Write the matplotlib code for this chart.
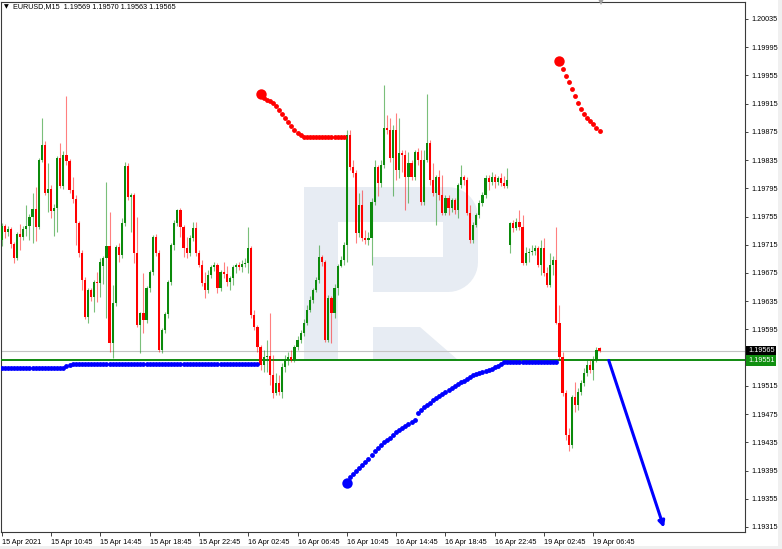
import matplotlib
matplotlib.use("Agg")
import matplotlib.pyplot as plt
import matplotlib.transforms as mtransforms
from matplotlib.patches import Polygon, Rectangle
import numpy as np

# ---------------- data ----------------
symbol = "EURUSD,M15"
last_ohlc = ["1.19569", "1.19570", "1.19563", "1.19565"]

opens = [
    1.19722, 1.19742, 1.19733, 1.19738, 1.19716, 1.19696, 1.19730, 1.19726, 1.19738, 1.19742,
    1.19755, 1.19766, 1.19740, 1.19835, 1.19856, 1.19789, 1.19794, 1.19763, 1.19767, 1.19838,
    1.19798, 1.19842, 1.19834, 1.19793, 1.19780, 1.19746, 1.19703, 1.19665, 1.19613, 1.19651,
    1.19641, 1.19662, 1.19661, 1.19685, 1.19696, 1.19713, 1.19576, 1.19633, 1.19712, 1.19701,
    1.19746, 1.19827, 1.19783, 1.19786, 1.19703, 1.19601, 1.19618, 1.19609, 1.19654, 1.19677,
    1.19726, 1.19703, 1.19566, 1.19594, 1.19617, 1.19662, 1.19715, 1.19746, 1.19764, 1.19740,
    1.19711, 1.19703, 1.19725, 1.19739, 1.19703, 1.19686, 1.19661, 1.19651, 1.19672, 1.19684,
    1.19687, 1.19654, 1.19677, 1.19674, 1.19662, 1.19668, 1.19684, 1.19687, 1.19684, 1.19688,
    1.19689, 1.19711, 1.19616, 1.19599, 1.19570, 1.19545, 1.19556, 1.19558, 1.19531, 1.19505,
    1.19519, 1.19506, 1.19542, 1.19552, 1.19556, 1.19552, 1.19570, 1.19580, 1.19590, 1.19604,
    1.19623, 1.19637, 1.19651, 1.19665, 1.19698, 1.19691, 1.19580, 1.19640, 1.19618, 1.19654,
    1.19685, 1.19694, 1.19715, 1.19871, 1.19825, 1.19817, 1.19732, 1.19772, 1.19725, 1.19722,
    1.19725, 1.19776, 1.19825, 1.19803, 1.19828, 1.19881, 1.19878, 1.19838, 1.19878, 1.19821,
    1.19845, 1.19842, 1.19811, 1.19831, 1.19811, 1.19847, 1.19835, 1.19776, 1.19835, 1.19859,
    1.19807, 1.19789, 1.19811, 1.19786, 1.19760, 1.19781, 1.19767, 1.19779, 1.19764, 1.19800,
    1.19811, 1.19807, 1.19760, 1.19722, 1.19743, 1.19757, 1.19774, 1.19786, 1.19810, 1.19804,
    1.19811, 1.19804, 1.19810, 1.19803, 1.19798, 1.19715, 1.19746, 1.19739, 1.19747, 1.19740,
    1.19689, 1.19703, 1.19705, 1.19706, 1.19711, 1.19687, 1.19711, 1.19675, 1.19658, 1.19687,
    1.19694, 1.19604, 1.19556, 1.19505, 1.19446, 1.19431, 1.19499, 1.19488, 1.19506, 1.19519,
    1.19533, 1.19545, 1.19538, 1.19552, 1.19569,
]
highs = [
    1.19746, 1.19745, 1.19742, 1.19740, 1.19719, 1.19733, 1.19745, 1.19742, 1.19772, 1.19759,
    1.19789, 1.19797, 1.19838, 1.19895, 1.19862, 1.19831, 1.19800, 1.19773, 1.19841, 1.19859,
    1.19848, 1.19926, 1.19837, 1.19811, 1.19786, 1.19749, 1.19708, 1.19669, 1.19654, 1.19654,
    1.19665, 1.19677, 1.19696, 1.19699, 1.19804, 1.19762, 1.19658, 1.19715, 1.19718, 1.19753,
    1.19832, 1.19831, 1.19789, 1.19789, 1.19755, 1.19620, 1.19675, 1.19657, 1.19679, 1.19729,
    1.19730, 1.19708, 1.19597, 1.19620, 1.19665, 1.19718, 1.19750, 1.19766, 1.19767, 1.19743,
    1.19726, 1.19729, 1.19747, 1.19747, 1.19708, 1.19694, 1.19677, 1.19679, 1.19686, 1.19691,
    1.19689, 1.19679, 1.19691, 1.19685, 1.19671, 1.19686, 1.19689, 1.19691, 1.19694, 1.19696,
    1.19740, 1.19713, 1.19623, 1.19601, 1.19573, 1.19566, 1.19580, 1.19618, 1.19559, 1.19533,
    1.19531, 1.19548, 1.19559, 1.19563, 1.19566, 1.19573, 1.19586, 1.19594, 1.19610, 1.19630,
    1.19643, 1.19654, 1.19669, 1.19715, 1.19701, 1.19694, 1.19644, 1.19643, 1.19660, 1.19688,
    1.19699, 1.19719, 1.19878, 1.19878, 1.19835, 1.19821, 1.19789, 1.19793, 1.19736, 1.19733,
    1.19781, 1.19835, 1.19828, 1.19835, 1.19942, 1.19899, 1.19895, 1.19885, 1.19902, 1.19895,
    1.19849, 1.19849, 1.19847, 1.19835, 1.19849, 1.19852, 1.19849, 1.19849, 1.19929, 1.19864,
    1.19831, 1.19814, 1.19821, 1.19814, 1.19786, 1.19786, 1.19781, 1.19781, 1.19803, 1.19828,
    1.19814, 1.19811, 1.19772, 1.19747, 1.19760, 1.19779, 1.19790, 1.19814, 1.19814, 1.19818,
    1.19815, 1.19813, 1.19817, 1.19813, 1.19824, 1.19747, 1.19750, 1.19753, 1.19764, 1.19757,
    1.19712, 1.19711, 1.19715, 1.19715, 1.19713, 1.19722, 1.19725, 1.19684, 1.19703, 1.19699,
    1.19740, 1.19630, 1.19563, 1.19509, 1.19456, 1.19502, 1.19521, 1.19512, 1.19524, 1.19541,
    1.19552, 1.19552, 1.19558, 1.19570, 1.19570,
]
lows = [
    1.19713, 1.19725, 1.19728, 1.19711, 1.19689, 1.19694, 1.19708, 1.19722, 1.19728, 1.19722,
    1.19718, 1.19720, 1.19738, 1.19832, 1.19786, 1.19762, 1.19753, 1.19728, 1.19733, 1.19796,
    1.19794, 1.19828, 1.19789, 1.19774, 1.19715, 1.19698, 1.19651, 1.19610, 1.19604, 1.19635,
    1.19620, 1.19634, 1.19641, 1.19660, 1.19611, 1.19563, 1.19555, 1.19628, 1.19691, 1.19696,
    1.19742, 1.19779, 1.19733, 1.19689, 1.19599, 1.19562, 1.19590, 1.19604, 1.19648, 1.19672,
    1.19699, 1.19563, 1.19562, 1.19590, 1.19611, 1.19658, 1.19708, 1.19742, 1.19726, 1.19698,
    1.19696, 1.19699, 1.19720, 1.19699, 1.19684, 1.19657, 1.19640, 1.19647, 1.19668, 1.19678,
    1.19647, 1.19650, 1.19668, 1.19657, 1.19651, 1.19658, 1.19675, 1.19679, 1.19677, 1.19684,
    1.19675, 1.19611, 1.19594, 1.19563, 1.19538, 1.19535, 1.19535, 1.19516, 1.19498, 1.19502,
    1.19502, 1.19498, 1.19535, 1.19545, 1.19549, 1.19549, 1.19566, 1.19576, 1.19586, 1.19601,
    1.19620, 1.19633, 1.19648, 1.19661, 1.19685, 1.19577, 1.19577, 1.19576, 1.19611, 1.19644,
    1.19684, 1.19687, 1.19691, 1.19821, 1.19811, 1.19718, 1.19726, 1.19720, 1.19716, 1.19715,
    1.19687, 1.19772, 1.19784, 1.19797, 1.19824, 1.19872, 1.19832, 1.19784, 1.19807, 1.19810,
    1.19818, 1.19764, 1.19774, 1.19807, 1.19807, 1.19828, 1.19772, 1.19772, 1.19832, 1.19800,
    1.19784, 1.19743, 1.19779, 1.19757, 1.19757, 1.19757, 1.19762, 1.19759, 1.19753, 1.19796,
    1.19800, 1.19757, 1.19718, 1.19718, 1.19740, 1.19753, 1.19770, 1.19781, 1.19793, 1.19800,
    1.19796, 1.19800, 1.19798, 1.19796, 1.19796, 1.19703, 1.19733, 1.19736, 1.19736, 1.19687,
    1.19687, 1.19691, 1.19701, 1.19701, 1.19684, 1.19672, 1.19671, 1.19655, 1.19655, 1.19672,
    1.19603, 1.19552, 1.19501, 1.19439, 1.19422, 1.19427, 1.19478, 1.19481, 1.19502, 1.19515,
    1.19529, 1.19533, 1.19524, 1.19549, 1.19563,
]
closes = [
    1.19742, 1.19733, 1.19738, 1.19716, 1.19696, 1.19730, 1.19726, 1.19738, 1.19742, 1.19755,
    1.19766, 1.19740, 1.19835, 1.19856, 1.19789, 1.19794, 1.19763, 1.19767, 1.19838, 1.19798,
    1.19842, 1.19834, 1.19793, 1.19780, 1.19746, 1.19703, 1.19665, 1.19613, 1.19651, 1.19641,
    1.19662, 1.19661, 1.19691, 1.19696, 1.19713, 1.19576, 1.19633, 1.19712, 1.19701, 1.19746,
    1.19827, 1.19783, 1.19786, 1.19703, 1.19601, 1.19618, 1.19609, 1.19654, 1.19677, 1.19726,
    1.19703, 1.19566, 1.19594, 1.19617, 1.19662, 1.19715, 1.19746, 1.19764, 1.19740, 1.19711,
    1.19703, 1.19725, 1.19739, 1.19703, 1.19686, 1.19661, 1.19651, 1.19672, 1.19684, 1.19687,
    1.19654, 1.19677, 1.19674, 1.19662, 1.19668, 1.19684, 1.19687, 1.19684, 1.19688, 1.19689,
    1.19711, 1.19616, 1.19599, 1.19570, 1.19545, 1.19556, 1.19558, 1.19531, 1.19505, 1.19519,
    1.19506, 1.19542, 1.19552, 1.19556, 1.19552, 1.19570, 1.19580, 1.19590, 1.19604, 1.19623,
    1.19637, 1.19651, 1.19665, 1.19698, 1.19691, 1.19580, 1.19640, 1.19618, 1.19654, 1.19685,
    1.19694, 1.19715, 1.19871, 1.19825, 1.19817, 1.19732, 1.19772, 1.19725, 1.19722, 1.19725,
    1.19776, 1.19825, 1.19803, 1.19828, 1.19881, 1.19878, 1.19838, 1.19878, 1.19821, 1.19845,
    1.19842, 1.19811, 1.19831, 1.19811, 1.19847, 1.19835, 1.19776, 1.19835, 1.19859, 1.19807,
    1.19789, 1.19811, 1.19786, 1.19760, 1.19781, 1.19767, 1.19779, 1.19764, 1.19800, 1.19811,
    1.19807, 1.19760, 1.19722, 1.19743, 1.19757, 1.19774, 1.19786, 1.19810, 1.19804, 1.19811,
    1.19804, 1.19810, 1.19803, 1.19798, 1.19807, 1.19746, 1.19739, 1.19747, 1.19740, 1.19689,
    1.19703, 1.19705, 1.19706, 1.19711, 1.19687, 1.19711, 1.19675, 1.19658, 1.19687, 1.19694,
    1.19604, 1.19556, 1.19505, 1.19446, 1.19431, 1.19499, 1.19488, 1.19506, 1.19519, 1.19533,
    1.19545, 1.19538, 1.19552, 1.19566, 1.19565,
]
# Parabolic SAR
sar = [
    1.19540, 1.19540, 1.19540, 1.19540, 1.19540, 1.19540, 1.19540, 1.19540, 1.19540, 1.19540,
    1.19540, 1.19540, 1.19540, 1.19540, 1.19540, 1.19540, 1.19540, 1.19540, 1.19540, 1.19540,
    1.19541, 1.19543, 1.19545, 1.19546, 1.19546, 1.19546, 1.19546, 1.19546, 1.19546, 1.19546,
    1.19546, 1.19546, 1.19546, 1.19546, 1.19546, 1.19546, 1.19546, 1.19546, 1.19546, 1.19546,
    1.19546, 1.19546, 1.19546, 1.19546, 1.19546, 1.19546, 1.19546, 1.19546, 1.19546, 1.19546,
    1.19546, 1.19546, 1.19546, 1.19546, 1.19546, 1.19546, 1.19546, 1.19546, 1.19546, 1.19546,
    1.19546, 1.19546, 1.19546, 1.19546, 1.19546, 1.19546, 1.19546, 1.19546, 1.19546, 1.19546,
    1.19546, 1.19546, 1.19546, 1.19546, 1.19546, 1.19546, 1.19546, 1.19546, 1.19546, 1.19546,
    1.19546, 1.19546, 1.19546, 1.19546, 1.19929, 1.19923, 1.19920, 1.19919, 1.19916, 1.19912,
    1.19906, 1.19901, 1.19895, 1.19889, 1.19884, 1.19878, 1.19874, 1.19871, 1.19868, 1.19868,
    1.19868, 1.19868, 1.19868, 1.19868, 1.19868, 1.19868, 1.19868, 1.19868, 1.19868, 1.19868,
    1.19868, 1.19868, 1.19378, 1.19386, 1.19390, 1.19395, 1.19399, 1.19403, 1.19407, 1.19412,
    1.19417, 1.19422, 1.19427, 1.19431, 1.19436, 1.19439, 1.19441, 1.19446, 1.19450, 1.19453,
    1.19456, 1.19458, 1.19461, 1.19464, 1.19467, 1.19477, 1.19481, 1.19485, 1.19488, 1.19491,
    1.19495, 1.19498, 1.19501, 1.19504, 1.19507, 1.19509, 1.19512, 1.19515, 1.19518, 1.19521,
    1.19522, 1.19525, 1.19528, 1.19531, 1.19532, 1.19533, 1.19535, 1.19536, 1.19538, 1.19539,
    1.19542, 1.19543, 1.19546, 1.19549, 1.19549, 1.19549, 1.19549, 1.19549, 1.19549, 1.19549,
    1.19549, 1.19549, 1.19549, 1.19549, 1.19549, 1.19549, 1.19549, 1.19549, 1.19549, 1.19549,
    1.19549, 1.19976, 1.19964, 1.19954, 1.19946, 1.19936, 1.19926, 1.19916, 1.19908, 1.19900,
    1.19895, 1.19891, 1.19886, 1.19881, 1.19876,
]
bid_price = 1.19565
level_price = 1.19551
y_ticks = [1.20035, 1.19995, 1.19955, 1.19915, 1.19875, 1.19835, 1.19795, 1.19755, 1.19715,
           1.19675, 1.19635, 1.19595, 1.19515, 1.19475, 1.19435, 1.19395, 1.19355, 1.19315]
x_tick_bars = [0, 16, 32, 48, 64, 80, 96, 112, 128, 144, 160, 176, 192]
x_tick_labels = ["15 Apr 2021", "15 Apr 10:45", "15 Apr 14:45", "15 Apr 18:45", "15 Apr 22:45",
                 "16 Apr 02:45", "16 Apr 06:45", "16 Apr 10:45", "16 Apr 14:45", "16 Apr 18:45",
                 "16 Apr 22:45", "19 Apr 02:45", "19 Apr 06:45"]
arrow_start = (197.0, 1.19551)
arrow_end = (214.9, 1.19314)

# ---------------- figure ----------------
W, H = 782, 549
fig = plt.figure(figsize=(W / 100, H / 100), dpi=100)
fig.patch.set_facecolor("white")
ax_l, ax_r, ax_t, ax_b = 1, 745, 1.5, 532
ax = fig.add_axes([ax_l / W, 1 - ax_b / H, (ax_r - ax_l) / W, (ax_b - ax_t) / H])
ax.set_xlim(-0.23, 241.2)
ax.set_ylim(1.193079, 1.200598)

FONT = ["Liberation Sans", "DejaVu Sans"]
FS = 5.2

# light grey margins of the terminal window
fig.patches.append(Rectangle((778 / W, 0), 4 / W, 1, transform=fig.transFigure,
                             facecolor="#f0f0f0", edgecolor="none", zorder=0))
fig.patches.append(Rectangle((0, 0), 1, 3 / H, transform=fig.transFigure,
                             facecolor="#f0f0f0", edgecolor="none", zorder=0))

# watermark "R" logo (decoration), drawn in axes-fraction coordinates
def pf(xp, yp):
    return ((xp - ax_l) / (ax_r - ax_l), (ax_b - yp) / (ax_b - ax_t))

wm_color = "#e7ecf3"
outer = [(304, 187), (448, 187)]
for a in np.linspace(90, 0, 12):
    outer.append((448 + 30 * np.cos(np.radians(a)), 217 - 30 * np.sin(np.radians(a))))
outer.append((478, 262))
for a in np.linspace(0, -90, 12):
    outer.append((448 + 30 * np.cos(np.radians(a)), 262 - 30 * np.sin(np.radians(a))))
outer += [(373, 292), (373, 257), (443, 257), (443, 222), (338, 222), (338, 360), (304, 360)]
ax.add_patch(Polygon([pf(*p) for p in outer], closed=True, transform=ax.transAxes,
                     facecolor=wm_color, edgecolor="none", zorder=0))
leg = [(373, 327), (420, 327), (458, 360), (373, 360)]
ax.add_patch(Polygon([pf(*p) for p in leg], closed=True, transform=ax.transAxes,
                     facecolor=wm_color, edgecolor="none", zorder=0))

# ---------------- candles ----------------
o = np.array(opens); h = np.array(highs); l = np.array(lows); c = np.array(closes)
idx = np.arange(len(o))
up = c >= o
UP_C, DN_C = "#0b8a0b", "#ff0000"
wick_cols = [(0.05, 0.55, 0.05, 0.55) if u else (1.0, 0.0, 0.0, 0.5) for u in up]
ax.vlines(idx, l, h, colors=wick_cols, linewidth=0.8, zorder=4)
body_bottom = np.minimum(o, c)
body_h = np.maximum(np.abs(c - o), 0.000015)
ax.bar(idx, body_h, bottom=body_bottom, width=0.7,
       color=[UP_C if u else DN_C for u in up], linewidth=0, zorder=5)

# ---------------- lines ----------------
ax.axhline(bid_price, color="#c4c4c4", linewidth=0.8, zorder=2)
ax.axhline(level_price, color="#108a10", linewidth=1.4, zorder=3)

# ---------------- Parabolic SAR ----------------
s = np.array(sar)
above = s > c
blue = ~above
ax.plot(idx[blue], s[blue], "o", color="#0000ff", markersize=3.5, markeredgewidth=0, zorder=6)
ax.plot(idx[above], s[above], "o", color="#ff0000", markersize=3.5, markeredgewidth=0, zorder=6)
flips = [i for i in range(1, len(s)) if above[i] != above[i - 1]]
for i in flips:
    ax.plot(idx[i], s[i], "o", color="#ff0000" if above[i] else "#0000ff",
            markersize=7.5, markeredgewidth=0, zorder=7)

# ---------------- arrow ----------------
ax.annotate("", xy=arrow_end, xytext=arrow_start,
            arrowprops=dict(arrowstyle="-|>", color="#0000ff", lw=2.2,
                            mutation_scale=9, shrinkA=0, shrinkB=0),
            zorder=8, annotation_clip=False)

# ---------------- axes styling ----------------
for sp in ax.spines.values():
    sp.set_color("#3a3a3a")
    sp.set_linewidth(0.8)
ax.yaxis.tick_right()
ax.set_yticks(y_ticks)
ax.set_yticklabels([f"{v:.5f}" for v in y_ticks], fontsize=FS, family=FONT)
ax.tick_params(axis="y", length=2.5, width=0.6, pad=2, colors="#222222", labelcolor="black")
ax.set_xticks(x_tick_bars)
ax.set_xticklabels(x_tick_labels, fontsize=FS, family=FONT, ha="left")
ax.tick_params(axis="x", length=3, width=0.6, pad=2, colors="#222222", labelcolor="black")

blend = mtransforms.blended_transform_factory(ax.transAxes, ax.transData)
ax.text(1.004, bid_price, f"{bid_price:.5f}", transform=blend, fontsize=FS, family=FONT,
        color="white", va="center", ha="left", zorder=10,
        bbox=dict(boxstyle="square,pad=0.22", fc="black", ec="none"))
ax.text(1.004, level_price, f"{level_price:.5f}", transform=blend, fontsize=FS, family=FONT,
        color="white", va="center", ha="left", zorder=10,
        bbox=dict(boxstyle="square,pad=0.22", fc="#109010", ec="none"))

# chart-shift marker at the top frame
ax.plot([(601 - ax_l) / (ax_r - ax_l)], [1.0], marker="v", color="#a0a0a0", markersize=4.5,
        markeredgewidth=0, transform=ax.transAxes, clip_on=False, zorder=10)

# header
fig.text(4 / W, 1 - 7 / H, "\u25bc", fontsize=4.5, family=["DejaVu Sans"], va="center", ha="left")
fig.text(13 / W, 1 - 7 / H, f"{symbol}  " + " ".join(last_ohlc), fontsize=FS, family=FONT,
         va="center", ha="left", color="black")

fig.savefig("out.png", dpi=100, facecolor="white")
